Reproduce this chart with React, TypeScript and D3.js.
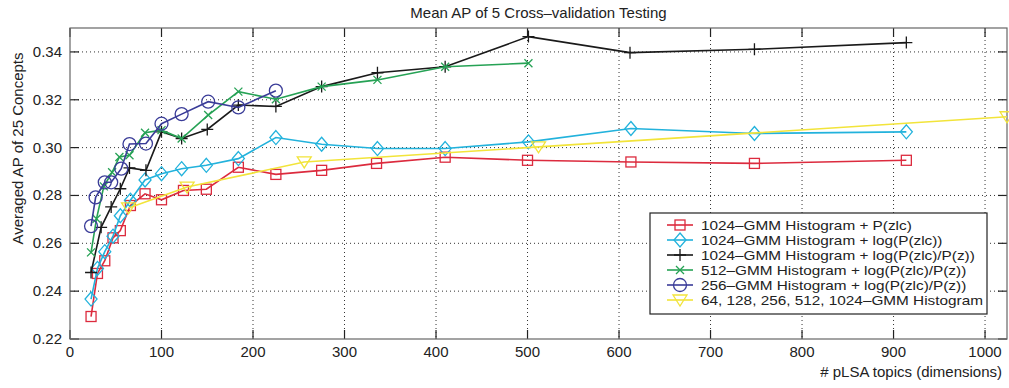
import React from "react";
import * as d3 from "d3";

const title = "Mean AP of 5 Cross\u2013validation Testing";
const xLabel = "# pLSA topics (dimensions)";
const yLabel = "Averaged AP of 25 Concepts";
const xTicks = [0, 100, 200, 300, 400, 500, 600, 700, 800, 900, 1000];
const yTicks = [0.22, 0.24, 0.26, 0.28, 0.3, 0.32, 0.34];

const redX = [23, 30, 38, 47, 55, 66, 82, 100, 124, 149, 184, 225, 275, 335, 410, 500, 613, 748, 914];
const redY = [0.2294, 0.2474, 0.2527, 0.2623, 0.2653, 0.2758, 0.2807, 0.2782, 0.2821, 0.2826, 0.2918, 0.2888, 0.2905, 0.2934, 0.296, 0.2947, 0.294, 0.2934, 0.2947];

const cyanX = [23, 30, 38, 47, 55, 66, 82, 100, 122, 149, 184, 225, 275, 336, 410, 501, 613, 748, 914];
const cyanY = [0.2367, 0.2495, 0.2565, 0.263, 0.2715, 0.278, 0.2865, 0.2891, 0.2912, 0.2926, 0.2954, 0.3042, 0.3014, 0.2996, 0.2996, 0.3024, 0.308, 0.3059, 0.3066];

const blackX = [23, 34, 45, 55, 65, 83, 100, 122, 150, 184, 225, 275, 336, 410, 501, 612, 748, 914];
const blackY = [0.2478, 0.2667, 0.2752, 0.2828, 0.2915, 0.2905, 0.3066, 0.3038, 0.3076, 0.3178, 0.3172, 0.3255, 0.3313, 0.3338, 0.3464, 0.3397, 0.3411, 0.3439];

const greenX = [23, 29, 37, 46, 54, 65, 82, 100, 122, 151, 184, 225, 275, 336, 410, 501];
const greenY = [0.2562, 0.2703, 0.2838, 0.2897, 0.2961, 0.2968, 0.3062, 0.3073, 0.3038, 0.3136, 0.3234, 0.3202, 0.3255, 0.3283, 0.3338, 0.3353];

const blueX = [23, 28, 38, 45, 56, 65, 83, 100, 122, 151, 184, 225];
const blueY = [0.2672, 0.2792, 0.2855, 0.2855, 0.2912, 0.3015, 0.3017, 0.31, 0.314, 0.3192, 0.3168, 0.3238];

const yellowX = [64, 128, 256, 512, 1024];
const yellowY = [0.2748, 0.2835, 0.294, 0.3003, 0.3129];

const seriesNames = [
  "1024\u2013GMM Histogram + P(zlc)",
  "1024\u2013GMM Histogram + log(P(zlc))",
  "1024\u2013GMM Histogram + log(P(zlc)/P(z))",
  "512\u2013GMM Histogram + log(P(zlc)/P(z))",
  "256\u2013GMM Histogram + log(P(zlc)/P(z))",
  "64, 128, 256, 512, 1024\u2013GMM Histogram",
];

type Marker = "square" | "diamond" | "plus" | "x" | "circle" | "tri";

const series: { name: string; xs: number[]; ys: number[]; color: string; marker: Marker }[] = [
  { name: seriesNames[0], xs: redX, ys: redY, color: "#dc2b3e", marker: "square" },
  { name: seriesNames[1], xs: cyanX, ys: cyanY, color: "#22b2dc", marker: "diamond" },
  { name: seriesNames[2], xs: blackX, ys: blackY, color: "#1a1a1a", marker: "plus" },
  { name: seriesNames[3], xs: greenX, ys: greenY, color: "#26a255", marker: "x" },
  { name: seriesNames[4], xs: blueX, ys: blueY, color: "#3a3c98", marker: "circle" },
  { name: seriesNames[5], xs: yellowX, ys: yellowY, color: "#f2e43a", marker: "tri" },
];

const W = 1009;
const H = 388;
const L = 70, R = 1007, T = 28, B = 339;
const FONT = "'Liberation Sans', Arial, Helvetica, sans-serif";

function MarkerShape({ type, cx, cy, color }: { type: Marker; cx: number; cy: number; color: string }) {
  const sw = 1.3;
  switch (type) {
    case "square":
      return <rect x={cx - 5} y={cy - 5} width={10} height={10} fill="none" stroke={color} strokeWidth={sw} />;
    case "diamond":
      return <path d={`M${cx},${cy - 7}L${cx + 6},${cy}L${cx},${cy + 7}L${cx - 6},${cy}Z`} fill="none" stroke={color} strokeWidth={sw} />;
    case "plus":
      return <path d={`M${cx - 6},${cy}H${cx + 6}M${cx},${cy - 6}V${cy + 6}`} stroke={color} strokeWidth={sw} />;
    case "x":
      return <path d={`M${cx - 4},${cy - 4}L${cx + 4},${cy + 4}M${cx - 4},${cy + 4}L${cx + 4},${cy - 4}`} stroke={color} strokeWidth={sw} />;
    case "circle":
      return <circle cx={cx} cy={cy} r={6.5} fill="none" stroke={color} strokeWidth={sw} />;
    case "tri":
      return <path d={`M${cx - 7},${cy - 5}L${cx + 7},${cy - 5}L${cx},${cy + 6}Z`} fill="none" stroke={color} strokeWidth={sw} />;
  }
}

export default function App() {
  const x = d3.scaleLinear().domain([0, 1024]).range([L, R]);
  const y = d3.scaleLinear().domain([0.22, 0.35]).range([B, T]);
  const line = d3.line<[number, number]>().x((d) => x(d[0])).y((d) => y(d[1]));
  const fmtY = d3.format(".2f");

  const legX = 650, legY = 213, legW = 337, legH = 101;
  const rowStep = 15;

  return (
    <svg width={W} height={H} style={{ position: "absolute", left: 0, top: 0, background: "#fff" }} fontFamily={FONT}>
      <rect x={0} y={0} width={W} height={H} fill="#fff" />
      {/* grid */}
      {xTicks.map((t) =>
        t > 0 ? (
          <line key={"gx" + t} x1={x(t)} x2={x(t)} y1={T} y2={B} stroke="#333" strokeWidth={1} strokeDasharray="1 3" />
        ) : null
      )}
      {yTicks.map((t) =>
        t > 0.22 ? (
          <line key={"gy" + t} x1={L} x2={R} y1={y(t)} y2={y(t)} stroke="#333" strokeWidth={1} strokeDasharray="1 3" />
        ) : null
      )}
      {/* ticks */}
      {xTicks.map((t) => (
        <g key={"tx" + t}>
          <line x1={x(t)} x2={x(t)} y1={B} y2={B - 9} stroke="#222" strokeWidth={1.2} />
          <line x1={x(t)} x2={x(t)} y1={T} y2={T + 9} stroke="#222" strokeWidth={1.2} />
          <text x={x(t)} y={357} textAnchor="middle" fontSize={15} fill="#222">
            {t}
          </text>
        </g>
      ))}
      {yTicks.map((t) => (
        <g key={"ty" + t}>
          <line x1={L} x2={L + 9} y1={y(t)} y2={y(t)} stroke="#222" strokeWidth={1.2} />
          <line x1={R} x2={R - 9} y1={y(t)} y2={y(t)} stroke="#222" strokeWidth={1.2} />
          <text x={62} y={y(t) + 5} textAnchor="end" fontSize={15} fill="#222">
            {fmtY(t)}
          </text>
        </g>
      ))}
      {/* frame */}
      <rect x={L} y={T} width={R - L} height={B - T} fill="none" stroke="#666" strokeWidth={1.2} />
      {/* series */}
      {series.map((s, i) => {
        const pts = s.xs.map((v, j) => [v, s.ys[j]] as [number, number]);
        return (
          <g key={"s" + i}>
            <path d={line(pts) || ""} fill="none" stroke={s.color} strokeWidth={1.6} />
            {pts.map((p, j) => (
              <MarkerShape key={j} type={s.marker} cx={x(p[0])} cy={y(p[1])} color={s.color} />
            ))}
          </g>
        );
      })}
      {/* legend */}
      <rect x={legX} y={legY} width={legW} height={legH} fill="#fff" stroke="#222" strokeWidth={1.2} />
      {series.map((s, i) => {
        const cy = legY + 12 + i * rowStep;
        return (
          <g key={"l" + i}>
            <line x1={667} x2={693} y1={cy} y2={cy} stroke={s.color} strokeWidth={1.6} />
            <MarkerShape type={s.marker} cx={680} cy={cy} color={s.color} />
            <text transform={`translate(701,${cy + 4.5}) scale(1.18,1)`} fontSize={13} fill="#222">
              {s.name}
            </text>
          </g>
        );
      })}
      {/* titles */}
      <text x={(L + R) / 2} y={18} textAnchor="middle" fontSize={15} fill="#222">
        {title}
      </text>
      <text x={1002} y={377} textAnchor="end" fontSize={15} fill="#222">
        {xLabel}
      </text>
      <text transform={`translate(23,${(T + B) / 2 - 35}) rotate(-90)`} textAnchor="middle" fontSize={15} fill="#222">
        {yLabel}
      </text>
    </svg>
  );
}
